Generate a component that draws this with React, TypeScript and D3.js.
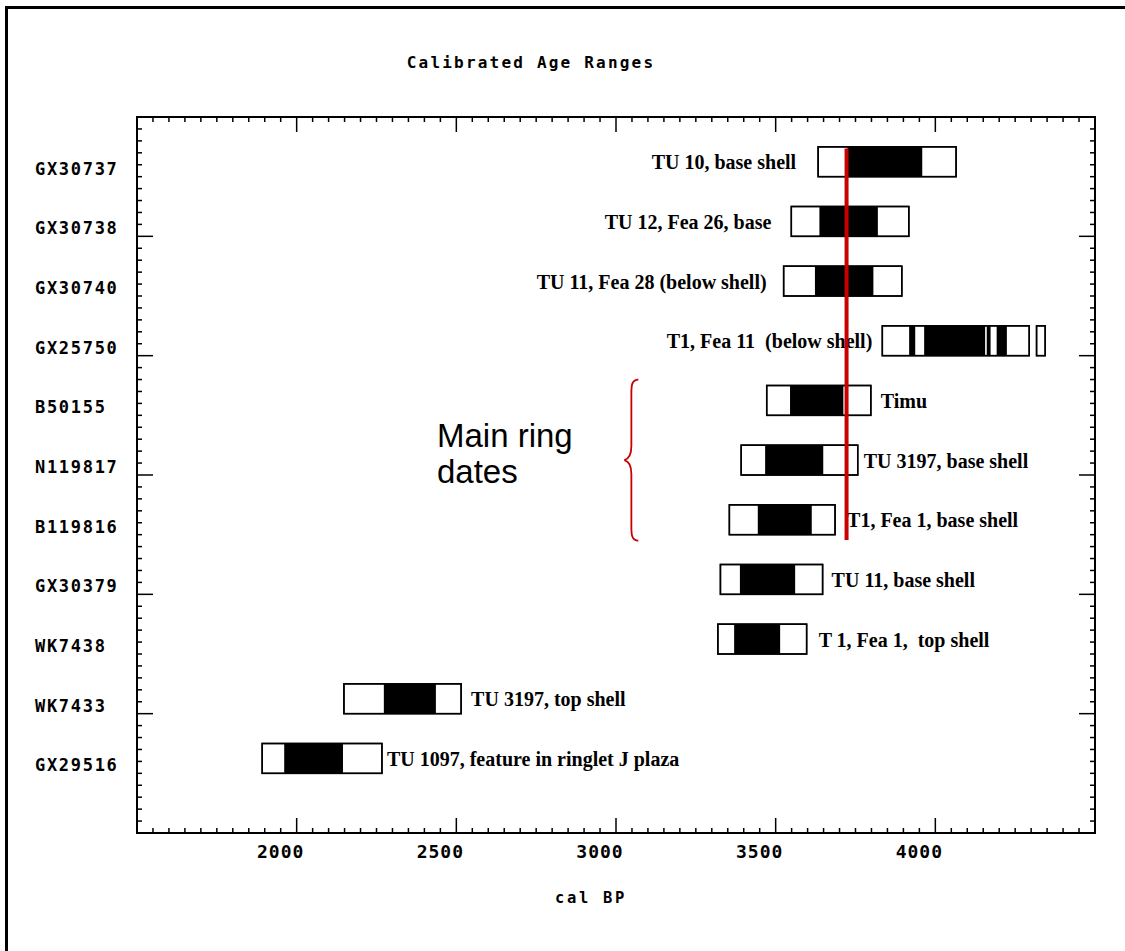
import React from "react";
import * as d3 from "d3";

// ---------- data ----------
const sampleCodes = ["GX30737", "GX30738", "GX30740", "GX25750", "B50155", "N119817", "B119816", "GX30379", "WK7438", "WK7433", "GX29516"];
const noteTexts = [
  "TU 10, base shell",
  "TU 12, Fea 26, base",
  "TU 11, Fea 28 (below shell)",
  "T1, Fea 11\u00a0 (below shell)",
  "Timu",
  "TU 3197, base shell",
  "T1, Fea 1, base shell",
  "TU 11, base shell",
  "T 1, Fea 1,\u00a0 top shell",
  "TU 3197, top shell",
  "TU 1097, feature in ringlet J plaza",
];
const noteSides = ["left", "left", "left", "left", "right", "right", "right", "right", "right", "right", "right"];
// 2-sigma ranges (white boxes), cal BP
const outerRanges: number[][][] = [
  [[3633, 4065]],
  [[3549, 3917]],
  [[3525, 3895]],
  [[3834, 4294], [4317, 4344]],
  [[3472, 3798]],
  [[3392, 3757]],
  [[3355, 3686]],
  [[3327, 3647]],
  [[3319, 3597]],
  [[2148, 2515]],
  [[1892, 2267]],
];
// 1-sigma ranges (black), cal BP
const innerRanges: number[][][] = [
  [[3725, 3959]],
  [[3637, 3820]],
  [[3623, 3806]],
  [[3918, 3937], [3965, 4156], [4161, 4173], [4192, 4224]],
  [[3545, 3712]],
  [[3467, 3649]],
  [[3444, 3613]],
  [[3388, 3561]],
  [[3370, 3514]],
  [[2273, 2436]],
  [[1961, 2145]],
];
const xTickLabels = [2000, 2500, 3000, 3500, 4000];
const referenceYear = 3722;
const titleText = "Calibrated Age Ranges";
const xAxisTitle = "cal BP";
const annotationLines = ["Main ring", "dates"];

// ---------- layout ----------
const W = 1125;
const H = 951;
const noteGaps = [22, 20, 17, 10, 10, 6, 12, 9, 12, 10, 5];

const x = d3.scaleLinear().domain([1500, 4500]).range([137, 1095]);
const y = d3.scaleLinear().domain([0, 12]).range([117, 833]);

const monoFont = "'DejaVu Sans Mono', monospace";
const serifFont = "'Liberation Serif', 'Times New Roman', serif";
const red = "#c80000";

export default function App() {
  const [x0, x1] = x.range();
  const [y0, y1] = y.range();
  const xMinor = d3.range(1500, 4501, 50);
  const yMinor = d3.range(0, 12.001, 0.2).map((v) => Math.round(v * 10) / 10);
  const isMajorX = (v: number) => v % 500 === 0;
  const isMajorY = (v: number) => Math.abs(v / 2 - Math.round(v / 2)) < 1e-6;

  const braceX = x(3045);
  const braceTop = y(4.4);
  const braceBot = y(7.1);
  const braceMid = (braceTop + braceBot) / 2;
  const bracePath = `M ${braceX + 8} ${braceTop} C ${braceX + 1} ${braceTop}, ${braceX + 1} ${braceTop + 7}, ${braceX + 1} ${braceTop + 14}
    L ${braceX + 1} ${braceMid - 14} C ${braceX + 1} ${braceMid - 6}, ${braceX - 2} ${braceMid - 1}, ${braceX - 6} ${braceMid}
    C ${braceX - 2} ${braceMid + 1}, ${braceX + 1} ${braceMid + 6}, ${braceX + 1} ${braceMid + 14}
    L ${braceX + 1} ${braceBot - 14} C ${braceX + 1} ${braceBot - 7}, ${braceX + 1} ${braceBot}, ${braceX + 8} ${braceBot}`;

  return (
    <svg
      width={W}
      height={H}
      viewBox={`0 0 ${W} ${H}`}
      style={{ position: "absolute", left: 0, top: 0, display: "block", background: "#fff" }}
    >
      <rect x={0} y={0} width={W} height={H} fill="#fff" />
      {/* outer frame (left & top visible) */}
      <path d={`M 6.5 ${H} V 7.5 H ${W}`} fill="none" stroke="#000" strokeWidth={3} />

      {/* title */}
      <text x={531} y={68} textAnchor="middle" fontFamily={monoFont} fontWeight="bold" fontSize={16} letterSpacing={2.2} fill="#000">
        {titleText}
      </text>

      {/* plot frame */}
      <rect x={x0} y={y0} width={x1 - x0} height={y1 - y0} fill="none" stroke="#000" strokeWidth={2} />

      {/* x ticks top & bottom */}
      {xMinor.map((v) => {
        const L = isMajorX(v) ? 15 : 5;
        return (
          <g key={"xt" + v} stroke="#000" strokeWidth={1.5}>
            <line x1={x(v)} x2={x(v)} y1={y0} y2={y0 + L} />
            <line x1={x(v)} x2={x(v)} y1={y1} y2={y1 - L} />
          </g>
        );
      })}
      {/* y ticks left & right */}
      {yMinor.map((v) => {
        const L = isMajorY(v) ? 16 : 5;
        return (
          <g key={"yt" + v} stroke="#000" strokeWidth={1.5}>
            <line x1={x0} x2={x0 + L} y1={y(v)} y2={y(v)} />
            <line x1={x1} x2={x1 - L} y1={y(v)} y2={y(v)} />
          </g>
        );
      })}

      {/* x tick labels */}
      {xTickLabels.map((v) => (
        <text key={"xl" + v} x={x(v) - 16} y={858} textAnchor="middle" fontFamily={monoFont} fontWeight="bold" fontSize={18} letterSpacing={1} fill="#000">
          {v}
        </text>
      ))}
      <text x={591} y={903} textAnchor="middle" fontFamily={monoFont} fontWeight="bold" fontSize={15.5} letterSpacing={2.7} fill="#000">
        {xAxisTitle}
      </text>

      {/* rows */}
      {sampleCodes.map((code, i) => {
        const row = i + 1;
        const top = y(row - 0.5);
        const bot = y(row);
        const mid = (top + bot) / 2;
        const outs = outerRanges[i];
        const ins = innerRanges[i];
        const first = outs[0];
        const side = noteSides[i];
        const noteX = side === "left" ? x(first[0]) - noteGaps[i] : x(first[1]) + noteGaps[i];
        return (
          <g key={code}>
            <text x={35} y={mid + 13} fontFamily={monoFont} fontWeight="bold" fontSize={17} letterSpacing={1.7} fill="#000">
              {code}
            </text>
            {outs.map((r, j) => (
              <rect key={"o" + j} x={x(r[0])} y={top} width={x(r[1]) - x(r[0])} height={bot - top} fill="#fff" stroke="#000" strokeWidth={1.5} />
            ))}
            {ins.map((r, j) => (
              <rect key={"i" + j} x={x(r[0])} y={top} width={x(r[1]) - x(r[0])} height={bot - top} fill="#000" />
            ))}
            {outs.map((r, j) => (
              <rect key={"oo" + j} x={x(r[0])} y={top} width={x(r[1]) - x(r[0])} height={bot - top} fill="none" stroke="#000" strokeWidth={1.5} />
            ))}
            <text
              x={noteX}
              y={mid + 7.5}
              textAnchor={side === "left" ? "end" : "start"}
              fontFamily={serifFont}
              fontWeight="bold"
              fontSize={20}
              fill="#000"
              style={{ whiteSpace: "pre" }}
            >
              {noteTexts[i]}
            </text>
          </g>
        );
      })}

      {/* reference red line */}
      <line x1={x(referenceYear)} x2={x(referenceYear)} y1={y(0.53)} y2={y(7.09)} stroke={red} strokeWidth={4} />

      {/* annotation */}
      <path d={bracePath} fill="none" stroke={red} strokeWidth={1.8} />
      {annotationLines.map((t, k) => (
        <text key={t} x={437} y={447 + k * 36} fontFamily="'Liberation Sans', Arial, sans-serif" fontSize={33} fill="#000">
          {t}
        </text>
      ))}
    </svg>
  );
}
